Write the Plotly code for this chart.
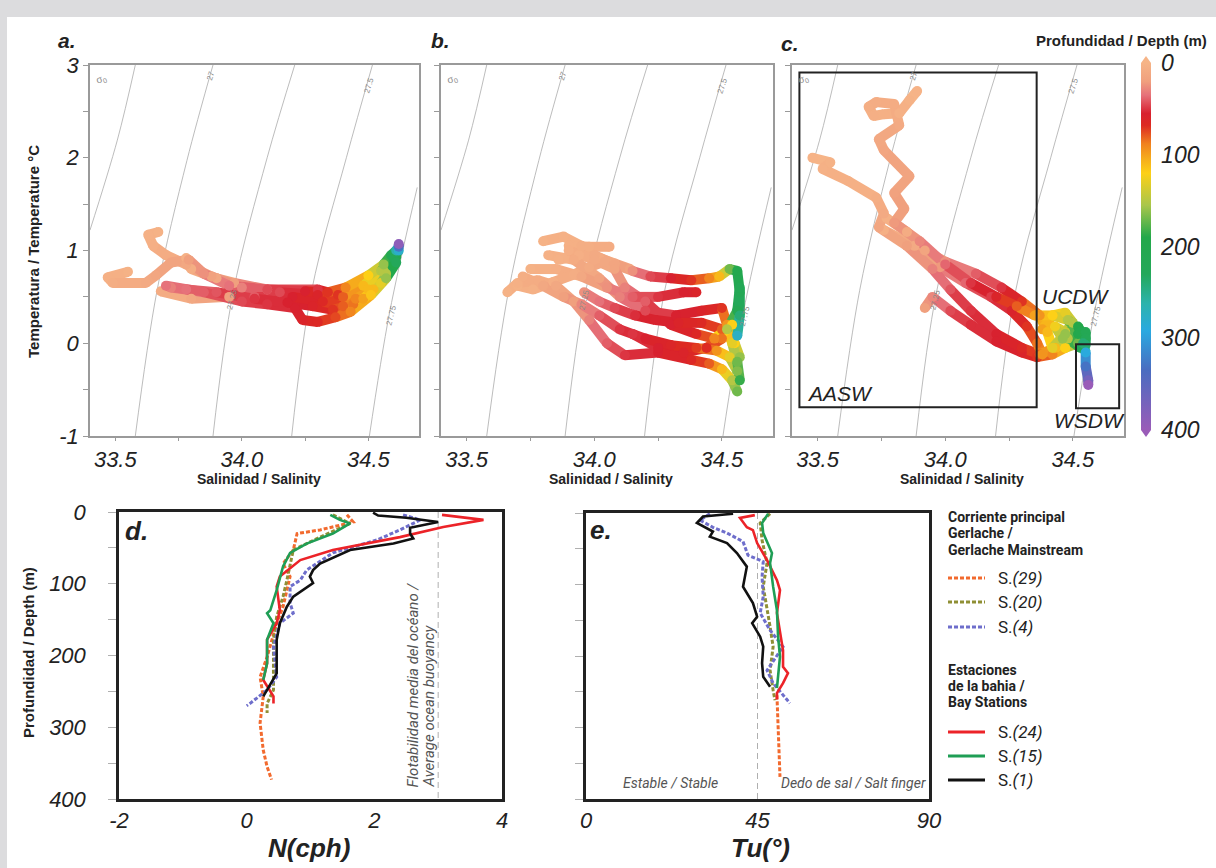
import plotly.graph_objects as go

W, H = 1216, 868


def fx(px):
    return px / W


def fy(py):
    return 1 - py / H


# ---------------- data ----------------
# isopycnals (sigma0): salinity / temperature pairs
iso_labels = ['26.75', '27', '27.25', '27.5', '27.75']
iso_S = [[33.579, 33.508, 33.40],
         [33.886, 33.783, 33.665, 33.579],
         [34.209, 34.10, 33.965, 33.886],
         [34.516, 34.413, 34.276, 34.197],
         [34.693, 34.583, 34.504]]
iso_T = [[3.0, 2.19, 1.22],
         [3.0, 1.97, 0.57, -1.0],
         [3.0, 2.0, 0.54, -1.0],
         [3.0, 2.0, 0.57, -1.0],
         [1.68, 0.32, -1.0]]

# panel a profiles
a_S = [
    [33.55, 33.47, 33.49, 33.62, 33.66, 33.72, 33.79, 33.85, 33.95, 34.10, 34.25, 34.34, 34.41, 34.50, 34.56, 34.59, 34.61, 34.62, 34.62],
    [33.67, 33.63, 33.65, 33.70, 33.78, 33.88, 34.00, 34.15, 34.30, 34.40, 34.48, 34.55, 34.60, 34.62],
    [33.70, 33.85, 34.00, 34.10, 34.21, 34.24, 34.30, 34.37, 34.43, 34.51, 34.57, 34.61],
    [33.78, 33.80, 33.90, 33.97, 34.10, 34.30, 34.38, 34.45, 34.52, 34.57, 34.61],
    [33.68, 33.80, 33.95, 34.05, 34.20, 34.32, 34.40, 34.48, 34.55, 34.60],
    [33.72, 33.78, 33.90, 34.05, 34.18, 34.28, 34.36, 34.44, 34.50, 34.56, 34.60],
]
a_T = [
    [0.77, 0.71, 0.65, 0.65, 0.73, 0.87, 0.90, 0.75, 0.62, 0.58, 0.56, 0.55, 0.60, 0.73, 0.85, 0.95, 1.00, 1.04, 1.07],
    [1.20, 1.17, 1.05, 0.95, 0.85, 0.72, 0.60, 0.55, 0.52, 0.50, 0.62, 0.78, 0.92, 1.00],
    [0.62, 0.55, 0.45, 0.42, 0.38, 0.25, 0.23, 0.28, 0.34, 0.52, 0.70, 0.87],
    [0.92, 0.80, 0.70, 0.65, 0.58, 0.58, 0.52, 0.48, 0.58, 0.75, 0.93],
    [0.56, 0.48, 0.50, 0.50, 0.50, 0.45, 0.40, 0.48, 0.65, 0.85],
    [0.60, 0.58, 0.55, 0.48, 0.44, 0.40, 0.36, 0.42, 0.58, 0.78, 0.92],
]
a_D = [
    [2, 4, 6, 10, 14, 16, 20, 25, 35, 45, 55, 70, 90, 120, 160, 210, 260, 330, 390],
    [2, 3, 5, 8, 12, 18, 30, 45, 60, 80, 110, 150, 220, 280],
    [35, 40, 45, 50, 55, 60, 65, 75, 90, 115, 160, 230],
    [3, 6, 12, 20, 35, 50, 70, 90, 110, 150, 200],
    [8, 12, 20, 40, 55, 65, 80, 100, 130, 190],
    [30, 35, 42, 50, 55, 60, 70, 85, 110, 150, 200],
]

# panel b profiles
b_S = [
    [33.80, 33.88, 33.95, 34.00, 34.08, 34.15, 34.22, 34.30, 34.38, 34.45, 34.49, 34.53, 34.56, 34.57, 34.57, 34.56],
    [33.66, 33.70, 33.78, 33.85, 33.92, 33.98, 34.05, 34.12, 34.25, 34.38, 34.45, 34.50, 34.54, 34.56],
    [33.75, 33.85, 33.95, 34.05, 34.15, 34.25, 34.35, 34.40],
    [33.82, 33.92, 34.02, 34.10, 34.20, 34.32, 34.42, 34.50, 34.52, 34.54, 34.56, 34.57],
    [33.90, 34.00, 34.08, 34.12, 34.20, 34.30, 34.40, 34.47, 34.52, 34.56, 34.57],
    [33.90, 33.98, 34.06],
    [33.72, 33.80, 33.88, 33.95, 34.02, 34.10, 34.20, 34.30, 34.40, 34.48, 34.53, 34.56],
    [33.96, 34.02, 34.08, 34.16, 34.24, 34.33, 34.42, 34.50, 34.55, 34.57],
    [33.70, 33.76, 33.84, 33.92, 33.98, 34.04],
    [33.86, 33.94, 34.02, 34.08, 34.14],
    [34.15, 34.25, 34.35, 34.44, 34.50, 34.54],
]
b_T = [
    [1.10, 1.15, 1.05, 0.95, 0.85, 0.78, 0.72, 0.70, 0.68, 0.70, 0.72, 0.80, 0.78, 0.55, 0.30, 0.08],
    [0.55, 0.65, 0.68, 0.62, 0.45, 0.25, 0.00, -0.13, -0.10, -0.18, -0.22, -0.28, -0.40, -0.52],
    [0.80, 0.80, 0.72, 0.60, 0.50, 0.50, 0.55, 0.55],
    [0.95, 0.90, 0.70, 0.50, 0.35, 0.30, 0.35, 0.38, 0.20, 0.00, -0.20, -0.40],
    [1.00, 0.90, 0.80, 0.60, 0.45, 0.20, 0.10, 0.05, 0.15, 0.35, 0.60],
    [1.05, 1.04, 1.04],
    [0.72, 0.62, 0.50, 0.42, 0.30, 0.15, 0.05, -0.02, -0.05, -0.08, -0.15, -0.30],
    [0.55, 0.45, 0.38, 0.30, 0.25, 0.22, 0.22, 0.15, 0.00, -0.15],
    [0.62, 0.58, 0.66, 0.74, 0.82, 0.88],
    [0.90, 0.95, 0.92, 0.86, 0.80],
    [0.10, -0.05, -0.10, -0.05, 0.05, 0.20],
]
b_D = [
    [2, 3, 6, 10, 15, 25, 45, 55, 70, 90, 110, 170, 200, 215, 240, 275],
    [2, 4, 8, 12, 20, 30, 40, 50, 55, 65, 80, 110, 150, 170],
    [2, 5, 12, 25, 40, 50, 55, 60],
    [3, 8, 18, 30, 45, 55, 60, 70, 95, 130, 170, 185],
    [5, 10, 15, 30, 40, 55, 65, 90, 150, 210, 220],
    [4, 6, 8],
    [6, 12, 20, 28, 40, 50, 55, 62, 72, 95, 130, 165],
    [25, 35, 45, 52, 56, 60, 66, 80, 120, 160],
    [2, 3, 5, 7, 9, 12],
    [3, 5, 8, 12, 16],
    [50, 55, 60, 68, 85, 120],
]

# panel c profiles
c_S = [
    [33.89, 33.86, 33.82, 33.76, 33.72, 33.70, 33.73, 33.80, 33.82, 33.74, 33.76, 33.86, 33.80, 33.84, 33.80, 33.90, 34.00, 34.10, 34.20, 34.28, 34.35, 34.42, 34.48, 34.53, 34.54, 34.55, 34.55, 34.56, 34.56],
    [33.48, 33.55, 33.52, 33.62, 33.73, 33.76, 33.74, 33.85, 33.95, 34.02, 34.10, 34.20, 34.30, 34.37, 34.43, 34.48, 34.53],
    [33.77, 33.85, 33.92, 34.00, 34.12, 34.22, 34.30, 34.37, 34.40, 34.42, 34.47, 34.52, 34.55],
    [33.92, 33.95, 34.02, 34.10, 34.20, 34.30, 34.36, 34.42, 34.47, 34.52],
    [33.76, 33.88, 33.98, 34.08, 34.18, 34.26, 34.32, 34.36, 34.38],
    [34.38, 34.42, 34.47, 34.50, 34.47, 34.43, 34.46, 34.52, 34.55, 34.55],
]
c_T = [
    [2.72, 2.62, 2.48, 2.47, 2.45, 2.55, 2.60, 2.58, 2.35, 2.20, 2.08, 1.80, 1.62, 1.45, 1.30, 1.10, 0.85, 0.65, 0.50, 0.40, 0.30, 0.30, 0.25, 0.12, 0.00, -0.10, -0.25, -0.40, -0.45],
    [2.00, 1.95, 1.88, 1.75, 1.57, 1.40, 1.25, 1.05, 0.80, 0.58, 0.35, 0.10, -0.05, -0.12, -0.05, 0.05, -0.05],
    [1.35, 1.20, 1.00, 0.88, 0.75, 0.60, 0.45, 0.30, 0.12, -0.05, 0.10, 0.18, 0.05],
    [0.38, 0.50, 0.35, 0.20, 0.02, -0.10, -0.15, -0.12, -0.05, 0.00],
    [1.22, 1.05, 0.82, 0.65, 0.50, 0.35, 0.18, 0.00, -0.12],
    [0.15, 0.30, 0.33, 0.22, 0.12, 0.18, 0.05, 0.10, 0.12, -0.02],
]
c_D = [
    [1, 2, 3, 4, 5, 6, 7, 8, 10, 12, 14, 16, 18, 20, 22, 28, 38, 50, 60, 80, 100, 120, 150, 200, 240, 290, 330, 370, 400],
    [1, 2, 3, 4, 6, 10, 14, 20, 30, 42, 50, 55, 65, 80, 110, 150, 220],
    [3, 8, 15, 25, 40, 50, 70, 95, 110, 130, 160, 190, 220],
    [20, 28, 45, 52, 55, 60, 70, 90, 120, 170],
    [4, 10, 22, 38, 48, 58, 70, 85, 95],
    [100, 115, 130, 150, 140, 125, 160, 195, 215, 240],
]

# depth colour scale
depth_stops = [0, 20, 35, 55, 68, 88, 105, 120, 155, 190, 230, 262, 292, 335, 400]
depth_colors = ['#F6B487', '#F0A07E', '#E6727A', '#D8212F', '#DD2A22', '#F0811F', '#F6AE1C',
                '#FDD017', '#A9C64B', '#23A84A', '#24A85A', '#2CB3AC', '#2AA9E0', '#4A6CC0', '#9A5CB8']
cbar_ticks = [0, 100, 200, 300, 400]

# panel d: buoyancy frequency N (cph) vs depth
d_names = ['S.(29)', 'S.(20)', 'S.(4)', 'S.(24)', 'S.(15)', 'S.(1)']
d_N = [
    [1.57, 1.67, 1.15, 0.79, 0.73, 0.57, 0.68, 0.63, 0.57, 0.47, 0.32, 0.21, 0.26, 0.21, 0.26, 0.32, 0.39],
    [1.35, 1.62, 1.15, 0.73, 0.63, 0.57, 0.47, 0.42, 0.42, 0.42, 0.32, 0.32],
    [2.45, 2.72, 2.40, 2.04, 1.35, 0.94, 0.84, 0.68, 0.68, 0.73, 0.52, 0.42, 0.47, 0.32, 0.05, 0.00],
    [3.06, 3.71, 3.08, 2.40, 1.35, 0.84, 0.52, 0.47, 0.52, 0.47, 0.32, 0.32, 0.26, 0.42, 0.42],
    [1.31, 1.46, 1.62, 1.35, 0.94, 0.68, 0.57, 0.47, 0.37, 0.32, 0.42, 0.32, 0.32, 0.26],
    [1.98, 2.06, 2.50, 3.00, 2.56, 2.56, 2.61, 2.30, 1.62, 1.15, 1.04, 0.99, 1.04, 0.88, 0.73, 0.63, 0.52, 0.47, 0.47, 0.32, 0.26],
]
d_D = [
    [4, 14, 25, 30, 53, 72, 90, 109, 132, 155, 202, 230, 257, 294, 332, 355, 373],
    [4, 16, 35, 53, 95, 118, 146, 178, 216, 248, 267, 280],
    [4, 11, 25, 39, 57, 81, 95, 104, 127, 141, 155, 188, 230, 248, 267, 270],
    [4, 11, 21, 35, 53, 67, 90, 104, 137, 155, 178, 211, 234, 257, 267],
    [4, 11, 16, 30, 44, 57, 76, 109, 137, 141, 155, 178, 211, 234],
    [1, 5, 8, 14, 22, 30, 37, 44, 53, 72, 81, 90, 99, 109, 118, 132, 155, 178, 225, 248, 257],
]
# panel e: Turner angle vs depth
e_Tu = [
    [50.1, 50.4, 50.6, 50.9, 50.9],
    [48.3, 45.7, 46.2, 47.5, 46.5, 47.5, 48.3, 49.1, 48.3, 49.1, 49.6],
    [32.5, 29.9, 33.3, 37.0, 41.2, 42.5, 46.5, 46.2, 46.5, 45.7, 48.3, 51.7, 47.5, 49.1, 53.5],
    [44.3, 40.4, 42.2, 43.8, 44.9, 47.5, 50.1, 50.9, 50.1, 50.9, 51.7, 51.7, 53.0, 51.7, 50.1, 50.1],
    [47.8, 46.2, 46.5, 48.8, 48.3, 49.1, 50.1, 50.4, 50.9, 50.4, 50.1],
    [38.6, 30.7, 29.1, 33.3, 32.5, 37.0, 39.6, 42.2, 41.2, 43.8, 44.9, 43.6, 45.7, 46.5, 46.2, 46.5, 48.3],
]
e_D = [
    [255, 290, 320, 350, 369],
    [1, 14, 38, 70, 103, 131, 159, 187, 220, 248, 262],
    [1, 10, 20, 28, 40, 59, 68, 89, 117, 140, 164, 187, 220, 238, 266],
    [3, 7, 20, 24, 42, 66, 94, 108, 140, 164, 192, 215, 224, 238, 252, 261],
    [1, 14, 28, 56, 70, 103, 136, 173, 201, 234, 245],
    [1, 5, 14, 26, 33, 42, 56, 75, 103, 126, 145, 154, 173, 187, 210, 229, 243],
]
line_colors = ['#F26A2E', '#8F8F35', '#6E6ECB', '#EC2328', '#1F9E55', '#111111']
line_dotted = [True, True, True, False, False, False]
buoyancy_ref = 3.0
turner_ref = 45

# ---------------- helpers ----------------


def hex2rgb(h):
    h = h.lstrip('#')
    return tuple(int(h[i:i + 2], 16) for i in (0, 2, 4))


def depth_color(d):
    d = max(0, min(400, d))
    for i in range(len(depth_stops) - 1):
        d0, d1 = depth_stops[i], depth_stops[i + 1]
        if d0 <= d <= d1:
            t = (d - d0) / (d1 - d0)
            c0, c1 = hex2rgb(depth_colors[i]), hex2rgb(depth_colors[i + 1])
            c = [round(c0[k] + (c1[k] - c0[k]) * t) for k in range(3)]
            return 'rgb(%d,%d,%d)' % tuple(c)
    return depth_colors[-1]


colorscale = sorted([[1 - d / 400, c] for d, c in zip(depth_stops, depth_colors)])

fig = go.Figure()

TXT = '#222222'
GRAY_AX = '#9A9A9A'
NARROW = 'Roboto'


def add_ts_panel(S_list, T_list, D_list, xa, ya):
    # isopycnals
    for s, t in zip(iso_S, iso_T):
        fig.add_trace(go.Scatter(x=s, y=t, mode='lines', line=dict(color='#ABABAB', width=0.8, shape='spline'),
                                 xaxis=xa, yaxis=ya, hoverinfo='skip', showlegend=False))
    bins = {}
    for S, T, D in zip(S_list, T_list, D_list):
        for i in range(len(S) - 1):
            key = round(((D[i] + D[i + 1]) / 2) / 4) * 4
            bx, by = bins.setdefault(key, ([], []))
            bx.extend([S[i], S[i + 1], None])
            by.extend([T[i], T[i + 1], None])
    for key in sorted(bins):
        bx, by = bins[key]
        fig.add_trace(go.Scatter(x=bx, y=by, mode='lines', line=dict(color=depth_color(key), width=10),
                                 xaxis=xa, yaxis=ya, hoverinfo='skip', showlegend=False))
    pts = []
    for S, T, D in zip(S_list, T_list, D_list):
        pts.extend(zip(S, T, D))
    pts.sort(key=lambda p: p[2])
    fig.add_trace(go.Scatter(x=[p[0] for p in pts], y=[p[1] for p in pts], mode='markers',
                             marker=dict(size=10, color=[-p[2] for p in pts], coloraxis='coloraxis',
                                         line=dict(width=0)),
                             xaxis=xa, yaxis=ya, hoverinfo='skip', showlegend=False))


add_ts_panel(a_S, a_T, a_D, 'x', 'y')
add_ts_panel(b_S, b_T, b_D, 'x2', 'y2')
add_ts_panel(c_S, c_T, c_D, 'x3', 'y3')

# reference dashed lines
fig.add_trace(go.Scatter(x=[buoyancy_ref, buoyancy_ref], y=[0, 400], mode='lines',
                         line=dict(color='#AFAFAF', width=1, dash='6px,4px'),
                         xaxis='x4', yaxis='y4', hoverinfo='skip', showlegend=False))
fig.add_trace(go.Scatter(x=[turner_ref, turner_ref], y=[0, 400], mode='lines',
                         line=dict(color='#AFAFAF', width=1, dash='6px,4px'),
                         xaxis='x5', yaxis='y5', hoverinfo='skip', showlegend=False))

for i in range(len(d_names)):
    dash = '4px,2px' if line_dotted[i] else 'solid'
    w = 3 if line_dotted[i] else 2.6
    fig.add_trace(go.Scatter(x=d_N[i], y=d_D[i], mode='lines', line=dict(color=line_colors[i], width=w, dash=dash),
                             xaxis='x4', yaxis='y4', hoverinfo='skip', showlegend=False))
for i in range(len(d_names)):
    dash = '4px,2px' if line_dotted[i] else 'solid'
    w = 3 if line_dotted[i] else 2.6
    fig.add_trace(go.Scatter(x=e_Tu[i], y=e_D[i], mode='lines', line=dict(color=line_colors[i], width=w, dash=dash),
                             xaxis='x5', yaxis='y5', hoverinfo='skip', showlegend=False))

# ---------------- axes ----------------
tick_font = dict(family='Liberation Sans', size=22, color=TXT, style='italic')
S_tickvals = [33.5, 33.75, 34.0, 34.25, 34.5]
S_ticktext = ['33.5', '', '34.0', '', '34.5']
T_tickvals = [-1, -0.5, 0, 0.5, 1, 1.5, 2, 2.5, 3]
T_ticktext = ['-1', '', '0', '', '1', '', '2', '', '3']

layout = dict(width=W, height=H, margin=dict(l=0, r=0, t=0, b=0, pad=0, autoexpand=False),
              paper_bgcolor='white', plot_bgcolor='white',
              font=dict(family='Liberation Sans', color=TXT), showlegend=False)

ts_dom = [(90, 419), (441, 773), (792, 1124)]
for i, (l, r) in enumerate(ts_dom):
    n = '' if i == 0 else str(i + 1)
    layout['xaxis' + n] = dict(domain=[fx(l), fx(r)], range=[33.4, 34.7], anchor='y' + n,
                               tickvals=S_tickvals, ticktext=S_ticktext, tickfont=tick_font,
                               ticks='outside', ticklen=3, tickcolor=GRAY_AX, showline=True, mirror=True,
                               linecolor=GRAY_AX, linewidth=1.5, showgrid=False, zeroline=False,
                               automargin=False)
    layout['yaxis' + n] = dict(domain=[fy(436), fy(65)], range=[-1, 3], anchor='x' + n,
                               tickvals=T_tickvals, ticktext=T_ticktext if i == 0 else [''] * 9,
                               tickfont=tick_font, ticks='outside', ticklen=5, tickcolor=GRAY_AX,
                               showline=True, mirror=True, linecolor=GRAY_AX, linewidth=1.5,
                               showgrid=False, zeroline=False, automargin=False)

D_tickvals = [0, 50, 100, 150, 200, 250, 300, 350, 400]
D_ticktext = ['0', '', '100', '', '200', '', '300', '', '400']
layout['xaxis4'] = dict(domain=[fx(119), fx(502)], range=[-2, 4], anchor='y4', tickvals=[-2, 0, 2, 4],
                        ticktext=['-2', '0', '2', '4'], tickfont=tick_font, ticks='', showline=True,
                        mirror=True, linecolor='#222222', linewidth=2.5, showgrid=False, zeroline=False,
                        automargin=False)
layout['yaxis4'] = dict(domain=[fy(799), fy(512)], range=[400, 0], anchor='x4', tickvals=D_tickvals,
                        ticktext=D_ticktext, tickfont=tick_font, ticks='outside', ticklen=8,
                        tickcolor='#B0B0B0', ticklabelstandoff=18, showline=True, mirror=True,
                        linecolor='#222222', linewidth=2.5, showgrid=False, zeroline=False,
                        automargin=False)
layout['xaxis5'] = dict(domain=[fx(586), fx(929)], range=[0, 90], anchor='y5', tickvals=[0, 45, 90],
                        ticktext=['0', '45', '90'], tickfont=tick_font, ticks='', showline=True,
                        mirror=True, linecolor='#222222', linewidth=2.5, showgrid=False, zeroline=False,
                        automargin=False)
layout['yaxis5'] = dict(domain=[fy(799), fy(513)], range=[400, 0], anchor='x5', tickvals=D_tickvals,
                        ticktext=[''] * 9, ticks='outside', ticklen=8, tickcolor='#B0B0B0',
                        showline=True, mirror=True, linecolor='#222222', linewidth=2.5,
                        showgrid=False, zeroline=False, automargin=False)

layout['coloraxis'] = dict(
    colorscale=colorscale, cmin=-400, cmax=0,
    colorbar=dict(thickness=10, thicknessmode='pixels', len=367 / H, lenmode='fraction',
                  x=fx(1141), xanchor='left', xpad=0, y=fy(246.5), yanchor='middle', ypad=0,
                  outlinewidth=0, ticks='outside', ticklen=6, tickcolor='rgba(0,0,0,0)',
                  tickvals=[-v for v in cbar_ticks],
                  ticktext=[str(v) for v in cbar_ticks],
                  tickfont=dict(family='Liberation Sans', size=23, color=TXT, style='italic')))

fig.update_layout(**layout)

# ---------------- shapes ----------------
shapes = []
# gray page bands
shapes.append(dict(type='rect', xref='paper', yref='paper', x0=0, x1=1, y0=fy(17), y1=1,
                   fillcolor='#DCDCDE', line=dict(width=0), layer='below'))
shapes.append(dict(type='rect', xref='paper', yref='paper', x0=0, x1=fx(7), y0=0, y1=1,
                   fillcolor='#DCDCDE', line=dict(width=0), layer='below'))
# colorbar end triangles
shapes.append(dict(type='path', xref='paper', yref='paper',
                   path='M %f %f L %f %f L %f %f Z' % (fx(1141), fy(63), fx(1151), fy(63), fx(1146), fy(56)),
                   fillcolor=depth_colors[0], line=dict(width=0)))
shapes.append(dict(type='path', xref='paper', yref='paper',
                   path='M %f %f L %f %f L %f %f Z' % (fx(1141), fy(430), fx(1151), fy(430), fx(1146), fy(437)),
                   fillcolor=depth_colors[-1], line=dict(width=0)))
# water-mass boxes in panel c
shapes.append(dict(type='rect', xref='x3', yref='y3', x0=33.429, x1=34.358, y0=-0.69, y1=2.92,
                   line=dict(color='#222222', width=2)))
shapes.append(dict(type='rect', xref='x3', yref='y3', x0=34.512, x1=34.681, y0=-0.70, y1=-0.01,
                   line=dict(color='#222222', width=2)))
# legend line samples
leg_y = [578, 602, 627, 732, 756, 780]
for i, yy in enumerate(leg_y):
    shapes.append(dict(type='line', xref='paper', yref='paper', x0=fx(948), x1=fx(985), y0=fy(yy), y1=fy(yy),
                       line=dict(color=line_colors[i], width=3, dash='4px,2px' if line_dotted[i] else 'solid')))
fig.update_layout(shapes=shapes)

# ---------------- annotations ----------------
anns = []


def ann(x, y, text, size, family='Liberation Sans', color=TXT, xanchor='center', yanchor='middle',
        angle=0, xref='paper', yref='paper'):
    if xref == 'paper':
        x = fx(x)
    if yref == 'paper':
        y = fy(y)
    anns.append(dict(x=x, y=y, xref=xref, yref=yref, text=text, showarrow=False,
                     font=dict(family=family, size=size, color=color), xanchor=xanchor,
                     yanchor=yanchor, textangle=angle))


# panel letters
ann(67, 41, '<b><i>a.</i></b>', 21)
ann(440, 41, '<b><i>b.</i></b>', 21)
ann(790, 43, '<b><i>c.</i></b>', 21)
ann(136, 531, '<b><i>d.</i></b>', 26)
ann(601, 530, '<b><i>e.</i></b>', 26)

# axis titles
ann(34, 252, '<b>Temperatura / Temperature °C</b>', 15, angle=-90)
for cx in (259, 611, 962):
    ann(cx, 479, '<b>Salinidad / Salinity</b>', 14)
ann(28, 653, '<b>Profundidad / Depth (m)</b>', 15, angle=-90)
ann(309, 848, '<b><i>N(cph)</i></b>', 26)
ann(760, 848, '<b><i>Tu(°)</i></b>', 26)
ann(1121, 41, '<b>Profundidad / Depth (m)</b>', 15)

# isopycnal labels in each T-S panel
for xa, ya in (('x', 'y'), ('x2', 'y2'), ('x3', 'y3')):
    ann(33.445, 2.85, 'σ<sub>0</sub>', 10, color='#8A8A8A', xref=xa, yref=ya, angle=-20)
    ann(33.875, 2.88, '27', 8, color='#8A8A8A', xref=xa, yref=ya, angle=-72)
    ann(34.502, 2.78, '27.5', 8, color='#8A8A8A', xref=xa, yref=ya, angle=-72)
    ann(34.590, 0.30, '27.75', 8, color='#8A8A8A', xref=xa, yref=ya, angle=-76)
    ann(33.962, 0.47, '27.25', 8, color='#8A8A8A', xref=xa, yref=ya, angle=-76)

# water masses in panel c
ann(805, 393, '<i>AASW</i>', 21, xanchor='left')
ann(1040, 296, '<i>UCDW</i>', 21, xanchor='left')
ann(1052, 420, '<i>WSDW</i>', 21, xanchor='left')

# panel d / e notes
ann(412, 790, '<i>Flotabilidad media del océano /</i>', 15, family=NARROW,
    color='#555555', yanchor='bottom', angle=-90)
ann(428, 790, '<i>Average ocean buoyancy</i>', 15, family=NARROW,
    color='#555555', yanchor='bottom', angle=-90)
ann(670, 783, '<i>Estable / Stable</i>', 14, family=NARROW, color='#555555')
ann(853, 783, '<i>Dedo de sal / Salt finger</i>', 14, family=NARROW, color='#555555')

# legend
for yy, t in zip((517, 533, 550), ('Corriente principal', 'Gerlache /', 'Gerlache Mainstream')):
    ann(946, yy, '<b>%s</b>' % t, 14, family=NARROW, xanchor='left')
for yy, t in zip((670, 686, 702), ('Estaciones', 'de la bahia /', 'Bay Stations')):
    ann(946, yy, '<b>%s</b>' % t, 14, family=NARROW, xanchor='left')
for yy, name in zip(leg_y, d_names):
    num = name[2:]
    ann(996, yy, 'S.<i>%s</i>' % num, 17, family=NARROW, xanchor='left')

fig.update_layout(annotations=anns)

fig.write_html('out.html', config={'displayModeBar': False},
               post_script="document.body.style.margin='0px';document.body.style.padding='0px';"
                           "document.body.style.overflow='hidden';")
